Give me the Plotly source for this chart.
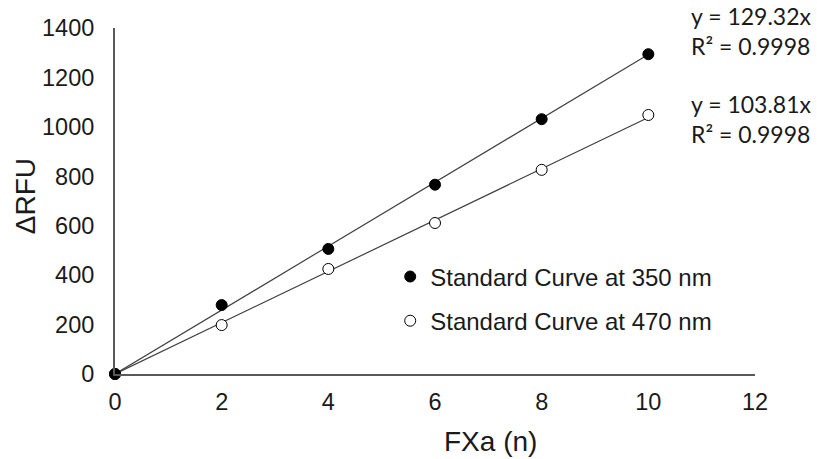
import plotly.graph_objects as go

x_vals = [0, 2, 4, 6, 8, 10]
rfu_350 = [0, 279, 506, 766, 1031, 1294]
rfu_470 = [0, 198, 425, 611, 826, 1048]
slope_350 = 129.32
slope_470 = 103.81
eq_350 = ["y = 129.32x", "R² = 0.9998"]
eq_470 = ["y = 103.81x", "R² = 0.9998"]
name_350 = "Standard Curve at 350 nm"
name_470 = "Standard Curve at 470 nm"
x_title = "FXa (n)"
y_title = "ΔRFU"

fig = go.Figure()
line_x = [0, 10]
fig.add_trace(go.Scatter(x=line_x, y=[slope_350 * v for v in line_x], mode="lines",
                         line=dict(color="#404040", width=1.2), showlegend=False, hoverinfo="skip"))
fig.add_trace(go.Scatter(x=line_x, y=[slope_470 * v for v in line_x], mode="lines",
                         line=dict(color="#404040", width=1.2), showlegend=False, hoverinfo="skip"))
fig.add_trace(go.Scatter(x=x_vals, y=rfu_470, mode="markers", name=name_470,
                         legendgroup="b", legendrank=2, cliponaxis=False,
                         marker=dict(symbol="circle", size=11, color="white",
                                     line=dict(color="black", width=1))))
fig.add_trace(go.Scatter(x=x_vals, y=rfu_350, mode="markers", name=name_350,
                         legendgroup="a", legendrank=1, cliponaxis=False,
                         marker=dict(symbol="circle", size=11, color="black",
                                     line=dict(color="black", width=1))))

eq_font = dict(family="Lato, Open Sans, sans-serif", size=23, color="#1a1a1a")
fig.add_annotation(x=0.897, y=0.99, xref="paper", yref="paper", xanchor="left", yanchor="middle",
                   text="<br>".join(eq_350), showarrow=False, align="left", font=eq_font)
fig.add_annotation(x=0.897, y=0.738, xref="paper", yref="paper", xanchor="left", yanchor="middle",
                   text="<br>".join(eq_470), showarrow=False, align="left", font=eq_font)

title_font = dict(family="Liberation Sans, Arial, sans-serif", size=28, color="#1a1a1a")
fig.add_annotation(x=0.586, y=-0.1965, xref="paper", yref="paper", xanchor="center", yanchor="middle",
                   text=x_title, showarrow=False, font=title_font)
fig.add_annotation(x=-0.1406, y=0.514, xref="paper", yref="paper", xanchor="center", yanchor="middle",
                   text=y_title, showarrow=False, font=title_font, textangle=-90)

fig.update_layout(
    width=817, height=459,
    margin=dict(l=115, r=62, t=28, b=85),
    plot_bgcolor="white", paper_bgcolor="white",
    font=dict(family="Liberation Sans, Arial, sans-serif", size=23, color="#1a1a1a"),
    legend=dict(x=0.43, y=0.217, xanchor="left", yanchor="middle", bgcolor="rgba(0,0,0,0)",
                font=dict(size=24), itemwidth=30, tracegroupgap=10),
    showlegend=True,
)
fig.update_xaxes(range=[0, 12], tickvals=[0, 2, 4, 6, 8, 10, 12], showgrid=False, zeroline=False,
                 showline=True, linecolor="#595959", linewidth=2, ticks="", ticklen=0,
                 tickfont=dict(size=23.5), ticklabelstandoff=6)
fig.update_yaxes(range=[0, 1400], tickvals=list(range(0, 1401, 200)), showgrid=False, zeroline=False,
                 showline=True, linecolor="#595959", linewidth=2, ticks="", ticklen=0,
                 tickfont=dict(size=23.5), ticklabelstandoff=14)

fig.write_html("out.html")
